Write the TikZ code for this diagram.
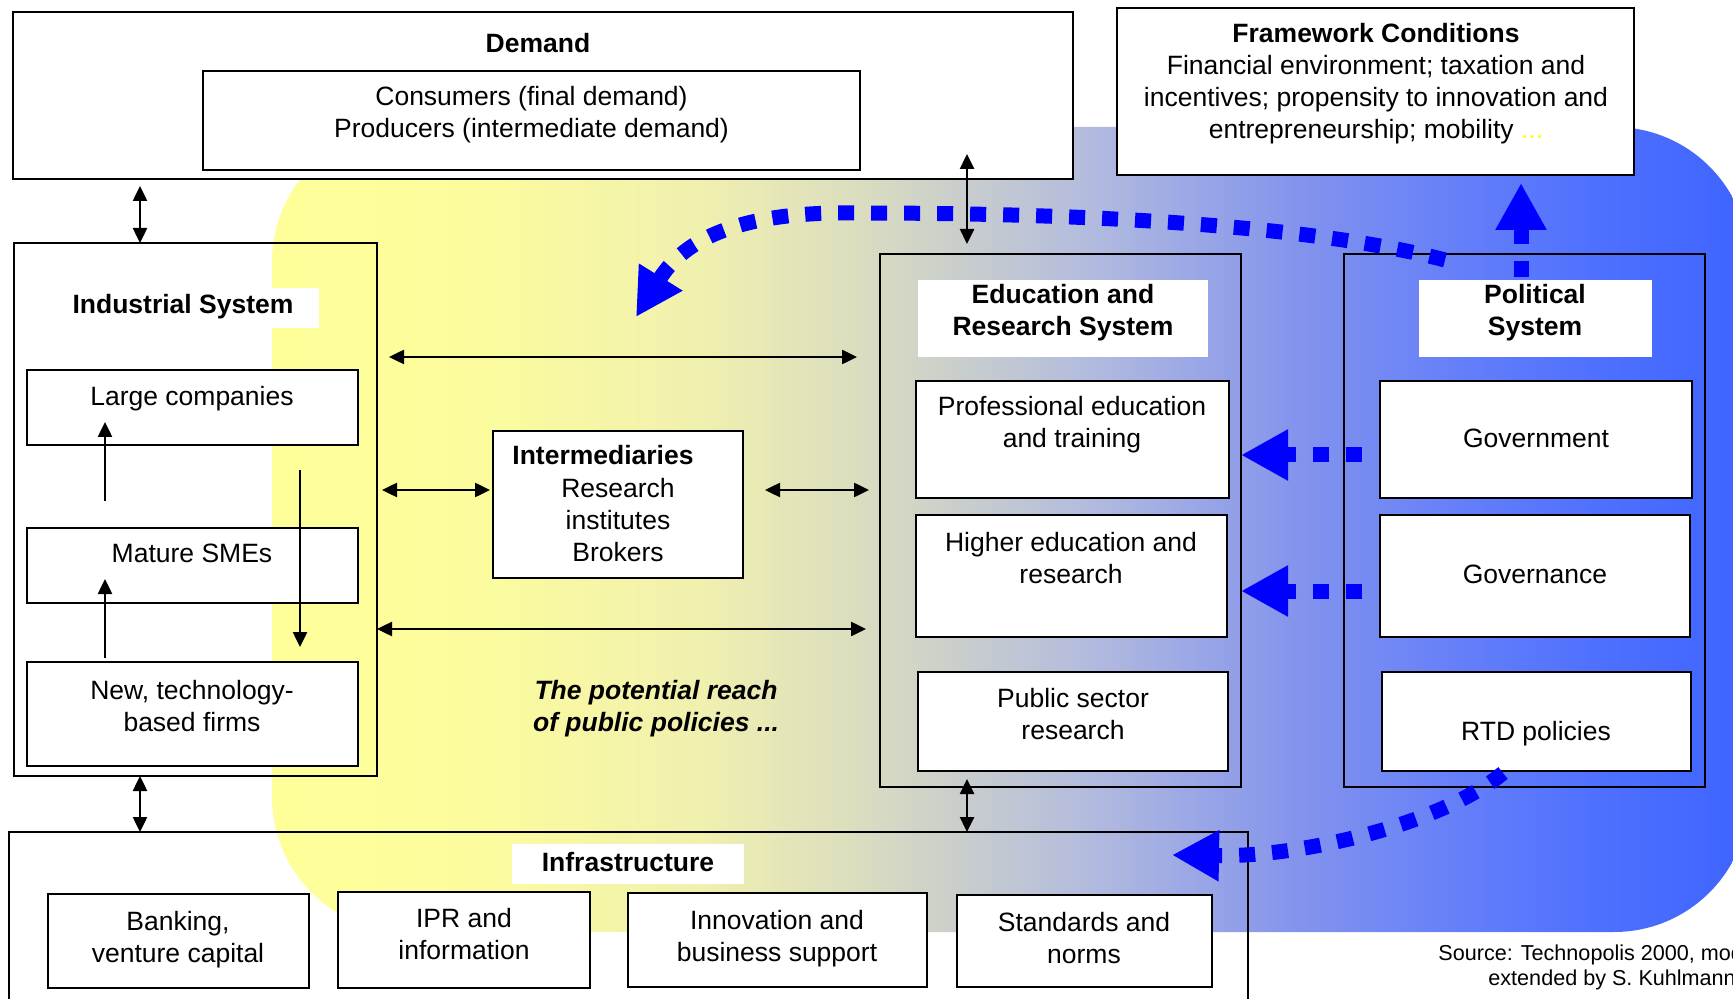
\documentclass[tikz,border=0pt]{standalone}
\usepackage{fontspec}
\setmainfont{Liberation Sans}
\usetikzlibrary{arrows.meta,fit}
\definecolor{s0}{RGB}{255,255,153}
\definecolor{s1}{RGB}{252,252,158}
\definecolor{s2}{RGB}{240,240,175}
\definecolor{s3}{RGB}{220,222,190}
\definecolor{s4}{RGB}{178,187,222}
\definecolor{s5}{RGB}{132,148,237}
\definecolor{s6}{RGB}{102,128,248}
\definecolor{s7}{RGB}{78,112,255}
\definecolor{s8}{RGB}{62,100,255}
\definecolor{dotblue}{RGB}{0,0,255}
\definecolor{dotsyel}{RGB}{255,255,0}
\pgfdeclarehorizontalshading{bgshade}{100bp}{color(0bp)=(s0); color(25bp)=(s0); color(32bp)=(s1); color(39.5bp)=(s2); color(44.6bp)=(s3); color(52.7bp)=(s4); color(59.6bp)=(s5); color(64.9bp)=(s6); color(70bp)=(s7); color(75bp)=(s8); color(100bp)=(s8)}
\begin{document}
\begin{tikzpicture}[x=0.5pt,y=-0.5pt,
  box/.style={draw, line width=1.3pt, inner sep=0pt, outer sep=0pt},
  wbox/.style={box, fill=white},
  lbl/.style={fill=white, inner sep=0pt, outer sep=0pt},
  txt/.style={font=\fontsize{13.25pt}{16pt}\selectfont, align=center, inner sep=0pt, anchor=base},
  btxt/.style={txt, font=\fontsize{13.25pt}{16pt}\selectfont\bfseries},
  dbl/.style={{Triangle[length=7.5pt,width=7pt]}-{Triangle[length=7.5pt,width=7pt]}, line width=1.25pt},
  sgl/.style={-{Triangle[length=7.5pt,width=7pt]}, line width=1.25pt},
  bdash/.style={dotblue, line width=7.5pt, dash pattern=on 8pt off 8.5pt, -{Triangle[length=23.5pt,width=24pt]}},
]
\useasboundingbox (0,0) rectangle (1733,999);
\fill[white] (0,0) rectangle (1733,999);
% background
\shade[shading=bgshade, rounded corners=67.5pt] (272,127) rectangle (1749,932);

% demand
\node[wbox, fit={(13,12) (1073,179)}] (demand) {};
\node[wbox, fit={(203,71) (860,170)}] (cons) {};
\node[btxt] (demandT) at (538,53) {Demand};
\node[txt] (consT) at (531.5,138) {Consumers (final demand)\\Producers (intermediate demand)};

% framework
\node[wbox, fit={(1117,8) (1634,175)}] (frame) {};
\node[txt] (frameT) at (1376,139) {\textbf{Framework Conditions}\\Financial environment; taxation and\\incentives; propensity to innovation and\\entrepreneurship; mobility \textcolor{dotsyel}{...}};

% industrial system
\node[box, fit={(14,243) (377,776)}] (ind) {};
\node[lbl, fit={(16,288) (319,328)}] (indL) {};
\node[btxt] (indT) at (183,314) {Industrial System};
\node[wbox, fit={(27,370) (358,445)}] (large) {};
\node[wbox, fit={(27,528) (358,603)}] (sme) {};
\node[wbox, fit={(27,662) (358,766)}] (newf) {};
\node[txt] (largeT) at (192,406) {Large companies};
\node[txt] (smeT) at (192,562) {Mature SMEs};
\node[txt] (newfT) at (192,731) {New, technology-\\based firms};

% intermediaries
\node[wbox, fit={(493,431) (743,578)}] (inter) {};
\node[btxt] (interH) at (603,465) {Intermediaries};
\node[txt] (interT) at (618,561) {Research\\institutes\\Brokers};

% education
\node[box, fit={(880,254) (1241,787)}] (edu) {};
\node[lbl, fit={(918,280) (1208,357)}] (eduL) {};
\node[btxt] (eduT) at (1063,336) {Education and\\Research System};
\node[wbox, fit={(916,381) (1229,498)}] (prof) {};
\node[wbox, fit={(916,515) (1227,637)}] (high) {};
\node[wbox, fit={(918,672) (1228,771)}] (pub) {};
\node[txt] (profT) at (1072,448) {Professional education\\and training};
\node[txt] (highT) at (1071,583) {Higher education and\\research};
\node[txt] (pubT) at (1073,739) {Public sector\\research};

% political
\node[box, fit={(1344,254) (1705,787)}] (pol) {};
\node[lbl, fit={(1419,280) (1652,357)}] (polL) {};
\node[btxt] (polT) at (1535,336) {Political\\System};
\node[wbox, fit={(1380,381) (1692,498)}] (gov) {};
\node[wbox, fit={(1380,515) (1690,637)}] (gvn) {};
\node[wbox, fit={(1382,672) (1691,771)}] (rtd) {};
\node[txt] (govT) at (1536,448) {Government};
\node[txt] (gvnT) at (1535,583) {Governance};
\node[txt] (rtdT) at (1536,740) {RTD policies};

% infrastructure
\node[box, fit={(9,832) (1248,1010)}] (infra) {};
\node[lbl, fit={(512,844) (744,884)}] (infL) {};
\node[btxt] (infT) at (628,871) {Infrastructure};
\node[wbox, fit={(48,894) (309,988)}] (bank) {};
\node[wbox, fit={(338,892) (590,988)}] (ipr) {};
\node[wbox, fit={(628,893) (927,987)}] (inn) {};
\node[wbox, fit={(957,895) (1212,987)}] (std) {};
\node[txt] (bankT) at (178,962) {Banking,\\venture capital};
\node[txt] (iprT) at (464,959) {IPR and\\information};
\node[txt] (innT) at (777,961) {Innovation and\\business support};
\node[txt] (stdT) at (1084,963) {Standards and\\norms};

% reach text
\node[txt, font=\fontsize{13.25pt}{16pt}\selectfont\bfseries\itshape] (reachT) at (656,731) {The potential reach\\of public policies ...};

% source
\node[txt, anchor=base west, font=\fontsize{10.8pt}{12.5pt}\selectfont] (src1) at (1438,960) {Source: Technopolis 2000, modified};
\node[txt, anchor=base west, font=\fontsize{10.8pt}{12.5pt}\selectfont] (src2) at (1488,985) {extended by S. Kuhlmann};

% blue dotted arrows
\coordinate (fwS) at (1521,277);
\draw[bdash, shorten >=4pt] (fwS) -- (frame.south -| fwS);
\coordinate (bcS) at (1445,260);
\coordinate (bcM) at (861,213);
\coordinate (bcE) at (636,317);
\draw[bdash] (bcS) .. controls (1300,222) and (1050,213) .. (bcM) .. controls (760,211) and (690,230) .. (bcE);
\coordinate (gaS) at (1362,455);
\draw[bdash] (gaS) -- (edu.east |- gaS);
\coordinate (gbS) at (1362,591);
\draw[bdash] (gbS) -- (edu.east |- gbS);
\coordinate (rtS) at (1503,773);
\coordinate (rtE) at (1172,855);
\draw[bdash] (rtS) .. controls (1440,825) and (1300,857) .. (rtE);

% black arrows
\coordinate (xa) at (140,0);
\draw[dbl, shorten <=3.5pt] (demand.south -| xa) -- (ind.north -| xa);
\draw[dbl] (ind.south -| xa) -- (infra.north -| xa);
\coordinate (xc) at (967,154);
\draw[dbl, shorten >=5pt] (xc) -- (edu.north -| xc);
\draw[dbl, shorten <=-4pt] (edu.south -| xc) -- (infra.north -| xc);
\coordinate (r1a) at (389,357);
\coordinate (r1b) at (857,357);
\draw[dbl] (r1a) -- (r1b);
\coordinate (r2) at (0,490);
\draw[dbl, shorten <=2.5pt, shorten >=1.5pt] (ind.east |- r2) -- (inter.west |- r2);
\draw[dbl, shorten <=11pt, shorten >=5.5pt] (inter.east |- r2) -- (edu.west |- r2);
\coordinate (r3) at (0,629);
\draw[dbl, shorten >=7pt] (ind.east |- r3) -- (edu.west |- r3);
\coordinate (u1s) at (105,501);
\coordinate (u1e) at (105,422);
\draw[sgl] (u1s) -- (u1e);
\coordinate (u2s) at (105,658);
\coordinate (u2e) at (105,579);
\draw[sgl] (u2s) -- (u2e);
\coordinate (d1s) at (300,470);
\coordinate (d1e) at (300,647);
\draw[sgl] (d1s) -- (d1e);
\end{tikzpicture}
\end{document}
